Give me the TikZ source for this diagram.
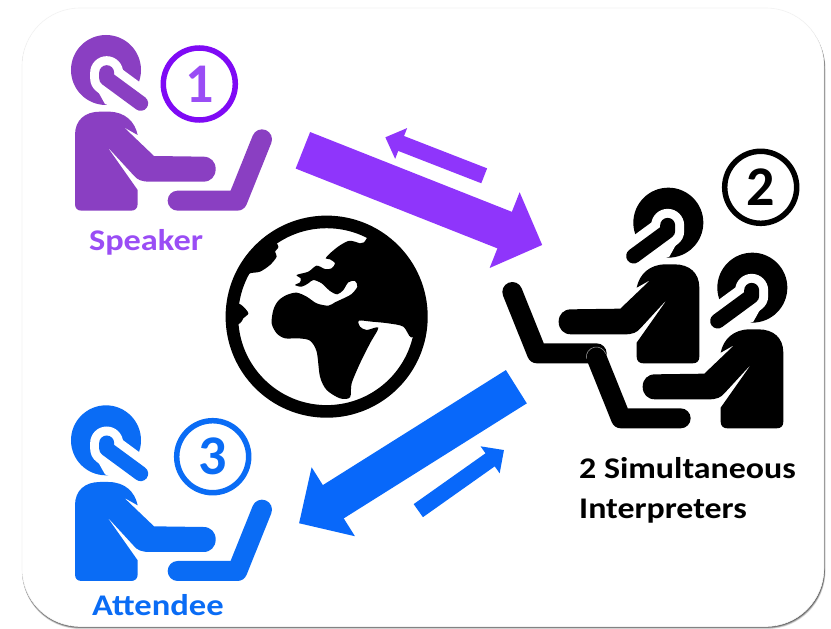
\documentclass[tikz,border=0pt]{standalone}
\usepackage{fontspec}
\setmainfont{Carlito}
\usetikzlibrary{arrows.meta}
\definecolor{spk}{HTML}{8A3FC2}
\definecolor{spkarrow}{HTML}{8F35FB}
\definecolor{spkring}{HTML}{7F0AF5}
\definecolor{spktext}{HTML}{9A4DF5}
\definecolor{att}{HTML}{0A6CF5}
\definecolor{attarrow}{HTML}{0868FA}
\tikzset{
  flow/.style={draw=#1, line cap=butt},
  bigtip/.style={line width=39.3pt, -{Triangle[length=40.5pt,width=79pt]}},
  smalltip/.style={line width=16pt, -{Triangle[length=17pt,width=32pt]}},
  numring/.style={circle, draw=#1, line width=5.5pt, minimum size=72pt, inner sep=0pt,
     font=\fontsize{56}{56}\selectfont\bfseries},
  labeltext/.style={font=\fontsize{30}{30}\selectfont\bfseries, inner sep=0pt},
}
\newcommand{\drawperson}[4]{%
  \begin{scope}[xshift=#1pt, yshift=-#2pt, x=#3pt, y=-0.33333pt]
    \fill[#4] (168,150) circle[radius=35pt];
    \fill[white] (122,175) -- (165,252) -- (300,300) -- (300,235) -- (190,150) -- cycle;
    \draw[white, line width=33pt, line cap=round, line join=round] (170,158) -- (170,175) -- (272,250);
    \draw[#4, line width=15pt, line cap=round, line join=round] (170,158) -- (170,175) -- (272,250);
    \fill[#4] (75,345) .. controls (75,300) and (105,275) .. (150,275) -- (175,275)
      .. controls (225,275) and (255,305) .. (263,345) -- (222,322) -- (312,408) -- (460,410)
      .. controls (482,410) and (497,425) .. (497,447) .. controls (497,470) and (482,485) .. (460,485)
      -- (300,485) .. controls (275,485) and (262,480) .. (250,465) -- (170,378) -- (263,510) -- (263,552)
      .. controls (263,565) and (255,572) .. (243,572) -- (95,572)
      .. controls (82,572) and (75,565) .. (75,552) -- cycle;
    \draw[#4, line width=20pt, line cap=round, line join=round] (383,542) -- (562,542) -- (636,358);
  \end{scope}}
\begin{document}
\begin{tikzpicture}[x=1pt,y=-1pt]
\useasboundingbox (0,0) rectangle (831,629);
\fill[white] (0,0) rectangle (831,629);
% card with its shadow
\foreach \d/\o in {3/.12,2.4/.18,1.8/.25,1.2/.35,.6/.45}{
  \fill[black, opacity=\o, rounded corners=58pt] (22,{8+\d}) rectangle ({824+\d*.5},{626+\d});
}
\fill[white, rounded corners=58pt] (22,8) rectangle (824,626.5);
\draw[gray!10, line width=.6pt, rounded corners=58pt] (22,8) rectangle (824,626.5);

% people
\drawperson{50}{20}{0.33333}{spk}
\drawperson{50}{390.33}{0.33333}{att}
\drawperson{724.33}{172.67}{-0.33333}{black}
\drawperson{808.33}{237.67}{-0.33333}{black}
\draw[gray!70, line width=.5pt] (586.45,358.74) arc[start angle=190, end angle=20, radius=10pt];

% globe
\begin{scope}[xshift=215pt, yshift=-210pt, x=0.33333pt, y=-0.33333pt]
  \node[circle, draw=black, line width=12.6pt, minimum size=189.5pt, inner sep=0pt] (globe) at (335,320) {};
  \fill[black] plot[smooth cycle, tension=.5] coordinates {
    (447,97) (435,100) (420,95) (400,93) (372,108) (345,130) (332,145) (345,148) (360,160) (350,175)
    (330,177) (305,167) (280,185) (245,195) (257,205) (255,217) (240,225) (260,230) (280,220) (295,210)
    (320,220) (345,243) (367,253) (385,240) (400,217) (420,213) (427,230) (410,252) (390,263) (360,277)
    (340,287) (305,280) (275,260) (245,248) (215,255) (190,272) (175,300) (170,340) (185,370) (210,385)
    (250,385) (285,392) (305,425) (315,500) (335,540) (375,565) (405,562) (410,520) (435,460) (465,400)
    (490,353) (455,360) (435,350) (432,332) (470,335) (520,340) (565,350) (588,382)
    (617,360) (616,270) (582,178) (518,102) (470,72)};
  \fill[black] plot[smooth cycle, tension=.5] coordinates {
    (190,110) (180,125) (185,140) (165,165) (135,185) (105,190) (85,205) (75,235) (60,246) (88,178) (133,118) (172,87)};
  \fill[black] plot[smooth cycle, tension=.5] coordinates {
    (70,280) (85,290) (100,310) (85,325) (75,340) (48,340) (48,280)};
\end{scope}

% arrows
\coordinate (spkOut) at (302.9,150.3);
\coordinate (intIn) at (542.3,245);
\coordinate (intBack) at (484.2,175.8);
\coordinate (spkBack) at (385.3,137.3);
\coordinate (intOut) at (516.35,386.7);
\coordinate (attIn) at (299,523.3);
\coordinate (attBack) at (418.3,510.65);
\coordinate (intBackIn) at (504,450);
\draw[flow=spkarrow, bigtip] (spkOut) -- (intIn);
\draw[flow=spkarrow, smalltip] (intBack) -- (spkBack);
\draw[flow=attarrow, bigtip] (intOut) -- (attIn);
\draw[flow=attarrow, smalltip] (attBack) -- (intBackIn);

% numbers
\node[numring=spkring, text=spktext] (n1) at (199.3,84) {1};
\node[numring=black, text=black] (n2) at (760.7,187.3) {2};
\node[numring=att, text=att] (n3) at (212.7,456.7) {3};

% labels
\node[labeltext, text=spktext, anchor=base] (speaker) at (146,250) {\scalebox{1.145}[1]{Speaker}};
\node[labeltext, text=att, anchor=base] (attendee) at (158,615) {\scalebox{1.153}[1]{Attendee}};
\node[labeltext, anchor=base west] (interp1) at (579,478.3) {\scalebox{1.13}[1]{2 Simultaneous}};
\node[labeltext, anchor=base west] (interp2) at (579,518.3) {\scalebox{1.13}[1]{Interpreters}};
\end{tikzpicture}
\end{document}
